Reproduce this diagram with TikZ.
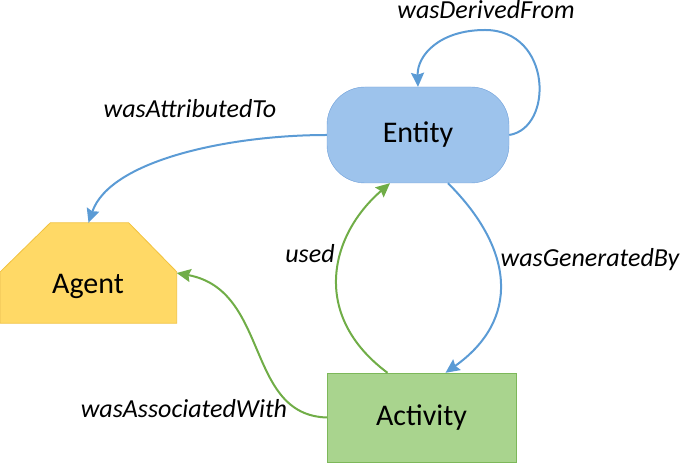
\documentclass[tikz,border=0pt]{standalone}
\usepackage{fontspec}
\setmainfont{Carlito}
\usetikzlibrary{
    arrows.meta,
    shapes,
    calc,
    positioning
}
\definecolor{entityfill}{HTML}{9DC3EC}
\definecolor{entityline}{HTML}{6E9FD9}
\definecolor{activityfill}{HTML}{A9D48E}
\definecolor{activityline}{HTML}{7DB85A}
\definecolor{agentfill}{HTML}{FFD966}
\definecolor{agentline}{HTML}{F2C23E}
\definecolor{relblue}{HTML}{5B9BD5}
\definecolor{relgreen}{HTML}{70AD47}

\begin{document}
\begin{tikzpicture}[x=1pt, y=1pt,
    nodetext/.style={inner sep=0pt, font=\fontsize{30}{36}\selectfont},
    reltext/.style={inner sep=0pt, anchor=base, font=\fontsize{26}{31}\selectfont\itshape},
    relblue/.style={draw=relblue, line width=2pt, -{Stealth[length=14pt,width=13pt,inset=2pt]}},
    relgreen/.style={draw=relgreen, line width=2pt, -{Stealth[length=14pt,width=13pt,inset=2pt]}}]
    \useasboundingbox (0, 0) rectangle (681, 463);

    % the three kinds of things
    \node[nodetext, draw=entityline, fill=entityfill, rounded corners=38pt,
        minimum width=182pt, minimum height=96pt] (entity) at (418, 328) {Entity};
    \node[nodetext, draw=activityline, fill=activityfill,
        minimum width=189pt, minimum height=89pt] (activity) at (421.5, 45.5) {Activity};
    \node[minimum width=176pt, minimum height=100pt, inner sep=0pt] (agent) at (88.5, 190) {};
    \filldraw[draw=agentline, fill=agentfill, line width=0.8pt]
        (agent.south west) -- ($(agent.north west)+(0,-49)$) -- ($(agent.north west)+(50,0)$)
        -- ($(agent.north east)+(-48,0)$) -- ($(agent.north east)+(0,-49)$) -- (agent.south east) -- cycle;
    \node[nodetext, anchor=base] (agenttext) at (88, 169) {Agent};

    % relations
    \draw[relblue] (entity.east) .. controls (554, 335) and (552, 433) .. (485, 433)
        .. controls (440, 433) and (417, 408) .. (entity.north);
    \draw[relblue] (entity.west) .. controls (230, 328) and (110, 303) .. (agent.north);
    \draw[relblue] ($(entity.south)+(30, 0)$) .. controls (515, 213) and (520, 143) .. ($(activity.north)+(24, 0)$);
    \draw[relgreen] ($(activity.north)+(-34, 0)$) .. controls (310, 148) and (330, 228) .. ($(entity.south)+(-28, 0)$);
    \draw[relgreen] (activity.west) .. controls (245, 48) and (270, 173) .. (agent.east);

    \node[reltext] (derived) at (486, 444.5) {wasDerivedFrom};
    \node[reltext] (attributed) at (190, 345) {wasAttributedTo};
    \node[reltext] (used) at (310, 200) {used};
    \node[reltext] (generated) at (590, 196) {wasGeneratedBy};
    \node[reltext] (associated) at (184, 45) {wasAssociatedWith};
\end{tikzpicture}
\end{document}
